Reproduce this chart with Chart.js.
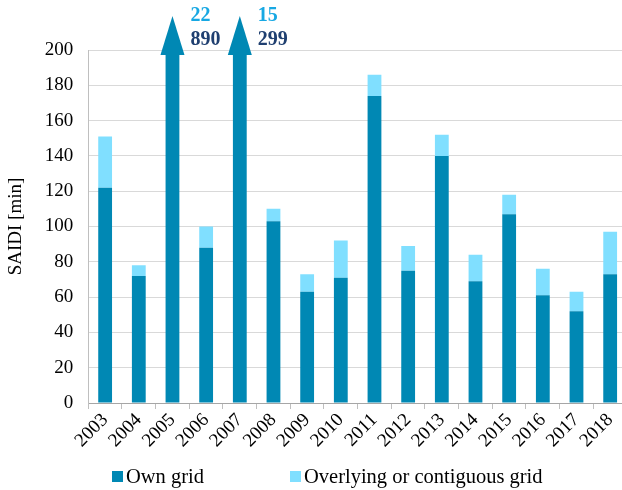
<!DOCTYPE html>
<html>
<head>
<meta charset="utf-8">
<script src="https://cdn.jsdelivr.net/npm/chart.js@4"></script>
<style>
    body { margin: 0; background: #fff; overflow: hidden; }
    #wrap { position: relative; width: 622px; height: 490px; overflow: hidden; }
    #legend { position: absolute; left: 0; top: 465px; width: 622px; font: 20.5px "Liberation Serif", serif; color: #000; }
    #legend span.item { position: absolute; top: 0; white-space: nowrap; }
    #legend span.box { display: inline-block; width: 11px; height: 11px; margin-right: 3px; vertical-align: 1px; }
</style>
</head>
<body>
<div id="wrap">
    <!-- the original plot runs a little past the right edge of the picture -->
    <canvas id="saidi" width="628" height="490"></canvas>
    <div id="legend">
        <span class="item" style="left:112px"><span class="box" style="background:#0088b4"></span>Own grid</span>
        <span class="item" style="left:290px"><span class="box" style="background:#80dfff"></span>Overlying or contiguous grid</span>
    </div>
</div>
<script>
const years = ['2003','2004','2005','2006','2007','2008','2009','2010','2011','2012','2013','2014','2015','2016','2017','2018'];
const own_grid = [122, 72, 890, 88, 299, 103, 63, 71, 174, 75, 140, 69, 107, 61, 52, 73];
const overlying_grid = [29, 6, 22, 12, 15, 7, 10, 21, 12, 14, 12, 15, 11, 15, 11, 24];
const y_ticks_max = 200;

const own_color = '#0088b4';
const over_color = '#80dfff';
const grid_color = '#d9d9d9';
const font_family = '"Liberation Serif", "Times New Roman", serif';

// arrows + value labels for bars that go off the scale
const overflow_arrows = {
    id: 'overflowArrows',
    afterDatasetsDraw(chart) {
        const ctx = chart.ctx;
        const area = chart.chartArea;
        const meta = chart.getDatasetMeta(0);
        own_grid.forEach((value, i) => {
            if (value + overlying_grid[i] <= y_ticks_max) return;
            const bar = meta.data[i];
            const x = bar.x;
            const base = area.top + 5;
            const tip = area.top - 34;
            ctx.save();
            ctx.fillStyle = own_color;
            ctx.beginPath();
            ctx.moveTo(x - 12, base);
            ctx.lineTo(x, tip);
            ctx.lineTo(x + 12, base);
            ctx.closePath();
            ctx.fill();
            ctx.font = 'bold 20px ' + font_family;
            ctx.textAlign = 'left';
            ctx.textBaseline = 'middle';
            ctx.fillStyle = '#17a8e3';
            ctx.fillText(String(overlying_grid[i]), x + 18, area.top - 34);
            ctx.fillStyle = '#1f3f70';
            ctx.fillText(String(value), x + 18, area.top - 10);
            ctx.restore();
        });
    }
};

new Chart(document.getElementById('saidi'), {
    type: 'bar',
    data: {
        labels: years,
        datasets: [{
            label: 'Own grid',
            data: own_grid,
            backgroundColor: own_color,
            barPercentage: 0.41,
            categoryPercentage: 1,
        },{
            label: 'Overlying or contiguous grid',
            data: overlying_grid,
            backgroundColor: over_color,
            barPercentage: 0.41,
            categoryPercentage: 1,
        }]
    },
    options: {
        responsive: false,
        animation: false,
        layout: {
            padding: { top: 50, right: 1, bottom: 38, left: 5 }
        },
        plugins: {
            legend: { display: false },
            tooltip: { enabled: false }
        },
        scales: {
            x: {
                stacked: true,
                grid: {
                    offset: true,
                    drawOnChartArea: false,
                    drawTicks: true,
                    tickLength: 6,
                    color: '#bfbfbf'
                },
                border: { color: '#a6a6a6' },
                ticks: {
                    color: '#000',
                    autoSkip: false,
                    minRotation: 45,
                    maxRotation: 45,
                    padding: 0,
                    font: { family: font_family, size: 19 }
                }
            },
            y: {
                stacked: true,
                min: 0,
                max: y_ticks_max,
                grid: {
                    color: grid_color,
                    drawTicks: false
                },
                border: { color: '#bfbfbf' },
                ticks: {
                    stepSize: 20,
                    color: '#000',
                    padding: 15,
                    font: { family: font_family, size: 19 }
                },
                title: {
                    display: true,
                    text: 'SAIDI [min]',
                    color: '#000',
                    padding: { top: 0, bottom: 2 },
                    font: { family: font_family, size: 19 }
                }
            }
        }
    },
    plugins: [overflow_arrows]
});
</script>
</body>
</html>
